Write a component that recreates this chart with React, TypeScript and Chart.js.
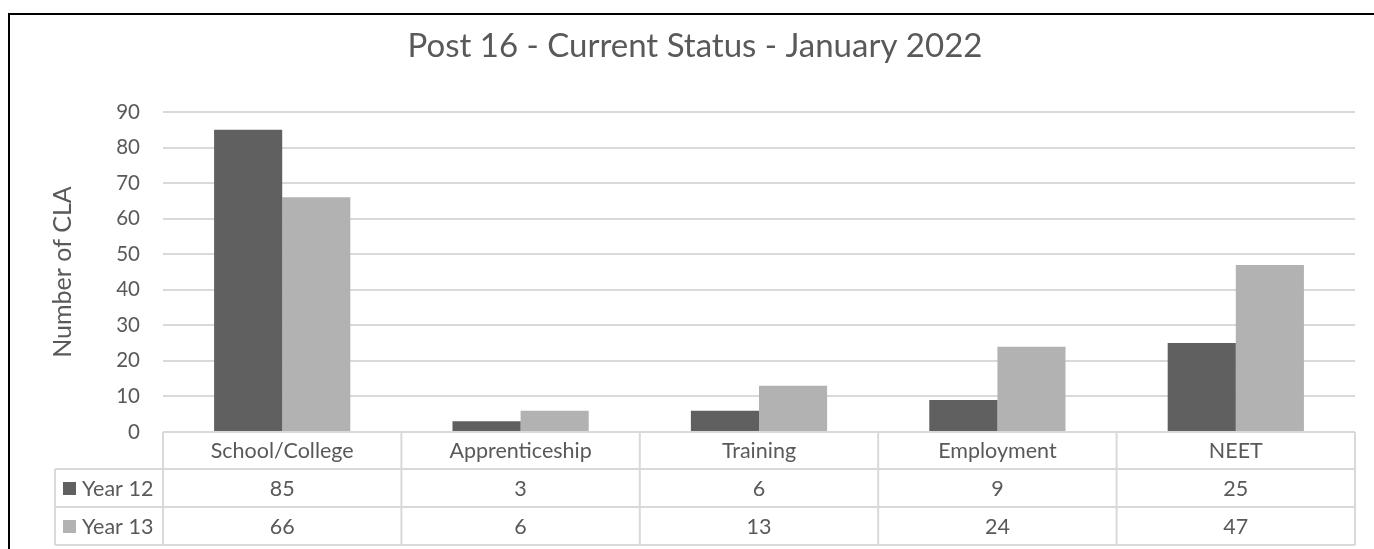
import React, { useEffect, useRef } from "react";
import { Chart, registerables } from "chart.js";

Chart.register(...registerables);

const categories = ["School/College", "Apprenticeship", "Training", "Employment", "NEET"];
const seriesNames = ["Year 12", "Year 13"];
const year12 = [85, 3, 6, 9, 25];
const year13 = [66, 6, 13, 24, 47];
const yMax = 90;
const yStep = 10;

const TEXT = "#595959";
const GRID = "#d9d9d9";
const COLORS = ["#606060", "#b2b2b2"];
const FONT = "Lato";

const tablePlugin = {
  id: "frameAndTable",
  afterDraw(chart: any) {
    const ctx = chart.ctx;
    const { left, right, bottom } = chart.chartArea;
    const xs = chart.scales.x;
    const n = categories.length;
    const w = (right - left) / n;
    const legendLeft = 55;
    const rowsY = [bottom, bottom + 37, bottom + 75, bottom + 113];
    ctx.save();
    // black frame
    ctx.fillStyle = "#000";
    ctx.fillRect(8, 13, chart.width, 2);
    ctx.fillRect(8, 13, 2, chart.height);
    // table lines
    ctx.strokeStyle = GRID;
    ctx.lineWidth = 2;
    ctx.beginPath();
    ctx.moveTo(left, rowsY[0]);
    ctx.lineTo(right, rowsY[0]);
    for (let r = 1; r < rowsY.length; r++) {
      ctx.moveTo(legendLeft, rowsY[r]);
      ctx.lineTo(right, rowsY[r]);
    }
    for (let i = 0; i <= n; i++) {
      const x = left + w * i;
      ctx.moveTo(x, rowsY[0]);
      ctx.lineTo(x, rowsY[3]);
    }
    ctx.moveTo(legendLeft, rowsY[1]);
    ctx.lineTo(legendLeft, rowsY[3]);
    ctx.stroke();
    // texts
    ctx.fillStyle = TEXT;
    ctx.font = `21.5px ${FONT}`;
    ctx.textAlign = "center";
    ctx.textBaseline = "middle";
    const series = [year12, year13];
    categories.forEach((c, i) => {
      const cx = xs.getPixelForValue(i);
      ctx.fillText(c, cx, (rowsY[0] + rowsY[1]) / 2 + 1);
      series.forEach((s, k) => {
        ctx.fillText(String(s[i]), cx, (rowsY[k + 1] + rowsY[k + 2]) / 2 + 1);
      });
    });
    ctx.textAlign = "left";
    seriesNames.forEach((name, k) => {
      const cy = (rowsY[k + 1] + rowsY[k + 2]) / 2;
      ctx.fillStyle = COLORS[k];
      ctx.fillRect(63, cy - 6, 13, 13);
      ctx.fillStyle = TEXT;
      ctx.fillText(name, 82, cy + 1);
    });
    ctx.restore();
  },
};

export default function App() {
  const ref = useRef<HTMLCanvasElement>(null);
  useEffect(() => {
    if (!ref.current) return;
    const chart = new Chart(ref.current, {
      type: "bar",
      data: {
        labels: categories,
        datasets: [
          { label: seriesNames[0], data: year12, backgroundColor: COLORS[0], categoryPercentage: 2 / 3.5, barPercentage: 1 },
          { label: seriesNames[1], data: year13, backgroundColor: COLORS[1], categoryPercentage: 2 / 3.5, barPercentage: 1 },
        ],
      },
      options: {
        responsive: false,
        animation: false,
        layout: { padding: { left: 35, right: 19, top: 0, bottom: 117 } },
        plugins: {
          legend: { display: false },
          tooltip: { enabled: false },
          title: {
            display: true,
            text: "Post 16 - Current Status - January 2022",
            color: TEXT,
            font: { family: FONT, size: 33, weight: "normal", lineHeight: 1.2 },
            padding: { top: 27, bottom: 45.4 },
          },
        },
        scales: {
          x: { display: false },
          y: {
            min: 0,
            max: yMax,
            ticks: { stepSize: yStep, color: TEXT, padding: 23, font: { family: FONT, size: 20.5 } },
            grid: { color: GRID, lineWidth: 2, drawTicks: false },
            border: { display: false },
            title: {
              display: true,
              text: "Number of CLA",
              color: TEXT,
              font: { family: FONT, size: 25 },
              padding: { top: 13, bottom: 4 },
            },
            afterFit: (scale: any) => {
              scale.width = 163 - 35;
            },
          },
        },
      },
      plugins: [tablePlugin],
    });
    return () => chart.destroy();
  }, []);
  return (
    <div style={{ position: "fixed", left: 0, top: 0, width: 1374, height: 549, background: "#fff" }}>
      <canvas ref={ref} width={1374} height={549} style={{ width: 1374, height: 549 }} />
    </div>
  );
}
